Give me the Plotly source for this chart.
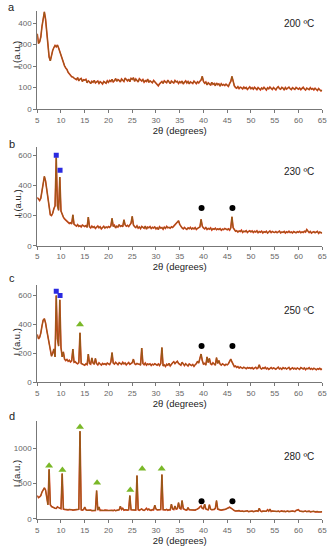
import numpy as np
import plotly.graph_objects as go

# 2-theta grid: 5 to 65 degrees, step 0.25
two_theta_start = 5.0
two_theta_step = 0.25

int_200 = [
    350,305,312,335,385,432,452,418,358,292,242,224,252,272,286,296,289,298,284,268,
    250,229,212,201,191,184,171,166,157,150,149,144,141,137,146,131,139,142,128,136,
    134,138,122,131,127,118,129,124,133,121,126,130,119,127,123,116,128,125,120,131,
    124,133,128,138,126,131,142,129,137,133,126,140,135,128,144,136,131,139,127,143,
    138,146,129,140,135,126,141,133,130,137,125,132,128,139,124,131,126,122,133,127,
    120,112,108,117,123,128,119,131,126,122,134,127,118,130,124,121,133,126,129,119,
    127,122,130,116,125,131,121,128,117,126,123,119,130,124,118,127,121,129,135,152,
    128,120,126,112,122,117,110,124,115,119,108,121,113,117,106,118,111,114,109,116,
    112,105,118,128,152,126,108,100,97,104,95,101,99,93,102,96,100,91,98,103,
    94,99,92,101,96,90,100,95,89,98,93,101,96,88,99,94,102,97,91,100,
    96,89,99,104,95,92,101,97,88,100,93,98,102,94,90,99,96,91,100,95,
    92,98,90,96,101,93,88,97,94,90,99,92,95,89,97,93,86,95,90,84,88,
]

int_230 = [
    320,305,300,315,360,420,460,430,370,300,235,205,200,215,245,265,585,265,235,455,
    230,205,190,178,170,162,155,148,152,145,205,142,136,130,140,128,133,125,137,130,
    128,134,122,190,126,118,130,121,127,115,124,131,119,126,112,123,129,117,125,120,
    127,122,131,182,128,136,118,130,124,140,128,133,126,172,138,129,135,127,142,150,
    195,138,126,120,132,117,125,113,128,121,116,130,110,124,119,127,114,122,118,125,
    112,120,108,126,117,121,110,124,115,128,119,122,116,126,121,130,138,148,158,166,
    142,125,118,112,121,114,108,119,113,122,110,117,112,120,108,115,118,124,175,130,
    118,112,121,108,115,110,118,104,113,109,116,106,112,108,114,103,110,107,115,111,
    106,112,104,118,192,120,102,96,100,91,98,94,103,89,97,93,100,88,95,99,
    92,98,88,96,91,99,86,94,90,97,85,93,89,96,84,92,98,87,95,90,
    88,94,86,92,97,85,91,89,95,84,93,88,96,87,91,85,94,90,86,93,
    89,95,86,92,88,96,91,108,93,87,95,84,90,93,86,89,95,82,91,87,85,
]

int_250 = [
    330,300,310,340,390,430,440,410,360,310,260,215,180,200,230,175,600,300,250,570,
    240,175,210,160,150,158,145,152,140,148,230,138,142,132,128,136,342,130,124,120,
    118,127,122,195,130,125,168,132,124,165,128,120,134,126,119,130,124,128,121,133,
    126,122,140,205,132,125,138,128,121,135,130,124,138,127,133,120,129,136,124,131,
    135,160,128,122,130,126,125,118,236,130,121,133,118,126,122,127,116,124,120,128,
    122,118,126,115,130,240,112,120,109,124,118,130,112,126,135,142,128,138,145,130,
    125,118,138,122,115,128,120,112,126,119,115,123,110,121,128,145,132,165,195,150,
    125,130,118,175,136,165,128,122,134,126,118,170,130,150,125,118,128,122,116,124,
    120,128,145,160,140,122,108,112,102,108,98,105,101,96,104,99,93,102,97,100,
    95,101,92,98,103,94,99,120,96,91,100,95,104,92,98,89,97,101,93,99,
    95,90,98,104,92,97,89,101,94,99,91,96,103,88,95,100,92,97,90,98,
    94,89,101,95,92,99,87,96,93,100,90,95,88,97,92,86,94,90,96,88,92,
]

int_280 = [
    330,300,310,330,380,420,440,410,300,200,700,200,175,165,160,150,148,170,160,150,
    145,640,140,135,132,130,128,134,127,130,125,128,131,126,130,135,1240,128,125,132,
    168,128,122,126,120,124,118,122,127,120,400,125,170,118,122,116,120,124,117,121,
    119,123,116,121,118,125,117,122,120,128,180,132,150,124,130,122,125,128,330,130,
    126,122,128,124,612,130,122,128,142,125,120,132,150,128,140,124,122,132,128,195,
    140,128,125,130,132,626,130,125,128,135,122,130,128,210,140,132,182,138,145,230,
    150,140,260,145,132,128,125,160,130,128,126,122,128,125,132,140,150,170,182,150,
    145,210,140,132,128,200,138,130,128,135,150,260,140,130,128,125,132,128,135,140,
    148,160,165,155,140,125,118,112,115,110,118,108,114,110,106,112,108,115,104,110,
    108,112,104,110,106,115,108,150,112,104,110,106,112,108,130,110,140,105,112,108,
    104,110,106,112,102,108,114,105,110,103,108,112,104,110,106,112,108,103,120,125,
    130,112,106,110,104,108,112,103,107,110,101,106,104,108,100,105,103,98,104,100,102,
]

# phase markers (2theta, intensity)
sq_230_x = [9.0, 9.8];  sq_230_y = [600, 500]
sq_250_x = [9.0, 9.8];  sq_250_y = [630, 600]
tri_250_x = [14.0];     tri_250_y = [400]
tri_280_x = [7.5, 10.3, 14.0, 17.6, 24.6, 27.1, 31.2]
tri_280_y = [750, 690, 1300, 510, 410, 710, 710]
dot_x = [39.6, 46.1]
dot_y = [250, 250]

panel_letters = ["a", "b", "c", "d"]
temps = ["200 ºC", "230 ºC", "250 ºC", "280 ºC"]
y_ticks = [[0, 100, 200, 300, 400], [0, 200, 400, 600], [0, 200, 400, 600], [0, 500, 1000]]
x_ticks = list(range(5, 70, 5))

series = [int_200, int_230, int_250, int_280]
for s in series:
    assert len(s) == 241, len(s)
x = two_theta_start + two_theta_step * np.arange(241)

W, H = 336, 550

def px_x(v):
    return v / W

def px_y(v):
    return 1 - v / H

x_dom = [px_x(36), px_x(327)]
panels_px = [(110, 11, 456.6), (248, 148, 657), (385.7, 287.7, 672.6), (523.7, 425, 1382)]

fig = go.Figure()
RED = "#e23a1c"
BROWN = "#86621a"
for i, s in enumerate(series):
    n = "" if i == 0 else str(i + 1)
    fig.add_trace(go.Scatter(x=x, y=s, mode="lines", line=dict(color=RED, width=1.6),
                             xaxis="x" + n, yaxis="y" + n, showlegend=False, hoverinfo="skip"))
    fig.add_trace(go.Scatter(x=x, y=s, mode="lines", line=dict(color=BROWN, width=0.9),
                             xaxis="x" + n, yaxis="y" + n, showlegend=False))

def add_markers(xs, ys, idx, symbol, color, size):
    n = "" if idx == 0 else str(idx + 1)
    fig.add_trace(go.Scatter(x=xs, y=ys, mode="markers",
                             marker=dict(symbol=symbol, color=color, size=size, line=dict(width=0)),
                             xaxis="x" + n, yaxis="y" + n, showlegend=False))

BLUE = "#2a2ae0"
GREEN = "#7ab828"
add_markers(sq_230_x, sq_230_y, 1, "square", BLUE, 5)
add_markers(dot_x, dot_y, 1, "circle", "black", 6)
add_markers(sq_250_x, sq_250_y, 2, "square", BLUE, 5)
add_markers(tri_250_x, tri_250_y, 2, "triangle-up", GREEN, 7)
add_markers(dot_x, dot_y, 2, "circle", "black", 6)
add_markers(tri_280_x, tri_280_y, 3, "triangle-up", GREEN, 7)
add_markers(dot_x, dot_y, 3, "circle", "black", 6)

layout = dict(width=W, height=H, margin=dict(l=0, r=0, t=0, b=0),
              paper_bgcolor="white", plot_bgcolor="white",
              font=dict(family="Arial, Liberation Sans, sans-serif", color="#222"))
annotations = []
for i, (bot, top, ymax) in enumerate(panels_px):
    n = "" if i == 0 else str(i + 1)
    ax_common = dict(showline=True, linecolor="#777", linewidth=1, ticks="outside",
                     ticklen=3, tickcolor="#777", showgrid=False, zeroline=False,
                     tickfont=dict(size=8, color="#666"))
    layout["xaxis" + n] = dict(domain=x_dom, range=[5, 65], anchor="y" + n,
                               tickvals=x_ticks, ticktext=[str(t) for t in x_ticks],
                               title=dict(text="2θ (degrees)", font=dict(size=9.5, color="#222"), standoff=0),
                               **ax_common)
    layout["yaxis" + n] = dict(domain=[px_y(bot), px_y(top)], range=[0, ymax], anchor="x" + n,
                               tickvals=y_ticks[i], ticktext=[str(t) for t in y_ticks[i]],
                               **ax_common)

letter_y = [7, 145, 281, 420]
temp_y = [24, 173, 313, 461]
ytitle_y = [55, 205, 345, 478]
for i in range(4):
    annotations.append(dict(text=panel_letters[i], x=px_x(10), y=px_y(letter_y[i]), xref="paper", yref="paper",
                            showarrow=False, font=dict(size=11, color="#222"), xanchor="center", yanchor="middle"))
    annotations.append(dict(text=temps[i], x=px_x(303), y=px_y(temp_y[i]), xref="paper", yref="paper",
                            showarrow=False, font=dict(size=10, color="#222"), xanchor="center", yanchor="middle"))
    annotations.append(dict(text="I (a.u.)", x=px_x(15), y=px_y(ytitle_y[i]), xref="paper", yref="paper",
                            showarrow=False, textangle=-90, font=dict(size=9.5, color="#222"),
                            xanchor="center", yanchor="middle"))
layout["annotations"] = annotations
fig.update_layout(**layout)
fig.write_html("out.html", config={"displayModeBar": False},
               post_script="document.body.style.margin='0px';")
